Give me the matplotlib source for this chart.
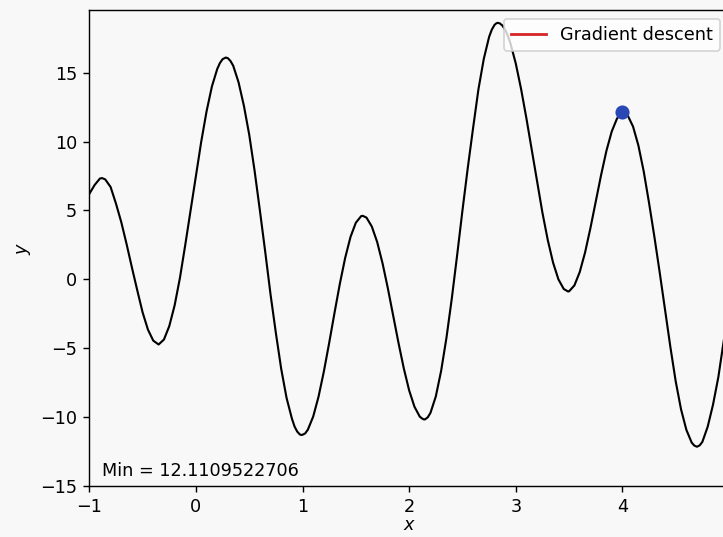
import matplotlib
matplotlib.use("Agg")
import matplotlib.pyplot as plt

# sampled objective curve (denser around the extrema)
xs = [-1.00, -0.95, -0.90, -0.88, -0.85, -0.80, -0.75, -0.70, -0.65, -0.60, -0.55,
      -0.50, -0.45, -0.40, -0.35, -0.30, -0.25, -0.20, -0.15, -0.10, -0.05,
      0.00, 0.05, 0.10, 0.15, 0.20, 0.225, 0.25, 0.28, 0.30, 0.325, 0.35, 0.40, 0.45,
      0.50, 0.55, 0.60, 0.65, 0.70, 0.75, 0.80, 0.85, 0.90, 0.925, 0.95, 0.975,
      0.99, 1.00, 1.025, 1.05, 1.10, 1.15, 1.20, 1.25, 1.30, 1.35, 1.40, 1.45,
      1.50, 1.55, 1.565, 1.60, 1.65, 1.70, 1.75, 1.80, 1.85, 1.90, 1.95,
      2.00, 2.05, 2.10, 2.125, 2.14, 2.15, 2.175, 2.20, 2.25, 2.30, 2.35, 2.40, 2.45,
      2.50, 2.55, 2.60, 2.65, 2.70, 2.75, 2.775, 2.80, 2.815, 2.83, 2.85, 2.875,
      2.90, 2.925, 2.95,
      3.00, 3.05, 3.10, 3.15, 3.20, 3.25, 3.30, 3.35, 3.40, 3.45, 3.49,
      3.50, 3.55, 3.60, 3.65, 3.70, 3.75, 3.80, 3.85, 3.90, 3.95,
      4.00, 4.05, 4.10, 4.15, 4.20, 4.25, 4.30, 4.35, 4.40, 4.45,
      4.50, 4.55, 4.60, 4.65, 4.675, 4.70, 4.725, 4.75, 4.80, 4.85, 4.90, 4.95,
      5.00]
ys = [6.2, 6.85, 7.32, 7.35, 7.25, 6.7, 5.5, 4.15, 2.55, 0.85, -0.8,
      -2.4, -3.65, -4.45, -4.73, -4.37, -3.4, -1.9, 0.1, 2.5, 5.0,
      7.5, 10.0, 12.2, 14.0, 15.27, 15.7, 15.98, 16.1, 16.05, 15.84, 15.5, 14.3, 12.6,
      10.5, 7.9, 5.0, 2.0, -1.1, -3.9, -6.5, -8.6, -10.1, -10.68, -11.05, -11.26,
      -11.3, -11.28, -11.18, -10.91, -9.96, -8.52, -6.69, -4.61, -2.43, -0.32, 1.56, 3.08,
      4.11, 4.59, 4.61, 4.48, 3.83, 2.71, 1.18, -0.64, -2.62, -4.61, -6.47,
      -8.06, -9.25, -9.97, -10.12, -10.17, -10.16, -10.01, -9.69, -8.5, -6.64, -4.24, -1.39, 1.75,
      5.0, 8.1, 11.0, 13.8, 16.0, 17.6, 18.12, 18.46, 18.57, 18.62, 18.58, 18.42,
      18.12, 17.69, 17.13,
      15.67, 13.81, 11.68, 9.39, 7.07, 4.84, 2.86, 1.21, 0.0, -0.7, -0.88,
      -0.87, -0.44, 0.53, 1.95, 3.71, 5.63, 7.56, 9.32, 10.73, 11.68,
      12.11, 11.9, 11.09, 9.72, 7.84, 5.55, 3.1, 0.5, -2.2, -4.9,
      -7.4, -9.43, -10.92, -11.85, -12.07, -12.15, -12.05, -11.8, -10.7, -9.1, -7.1, -4.5,
      -1.8]

# current position of the descent
x_cur = 4.0
y_min = 12.1109522706

bg = "#f8f8f8"
fig = plt.figure(figsize=(723 / 127, 537 / 127), dpi=127, facecolor=bg)
ax = fig.add_axes([89.3 / 723, 51 / 537, 639.7 / 723, 476 / 537], facecolor=bg)

ax.plot(xs, ys, color="black", lw=1.2)
ax.plot([], [], color="tab:red", lw=1.6, label="Gradient descent")
ax.plot([x_cur], [y_min], "o", color="#2a48b5", ms=7)

ax.text(0.02, 0.02, "Min = %.10f" % y_min, transform=ax.transAxes)

ax.set_xlim(-1, 5)
ax.set_ylim(-15, 19.55)
ax.set_xticks([-1, 0, 1, 2, 3, 4])
ax.set_yticks([-15, -10, -5, 0, 5, 10, 15])
ax.set_xlabel("$x$", labelpad=0)
ax.set_ylabel("$y$")
ax.legend(loc="upper right")

fig.savefig("out.png", dpi=127, facecolor=bg)
